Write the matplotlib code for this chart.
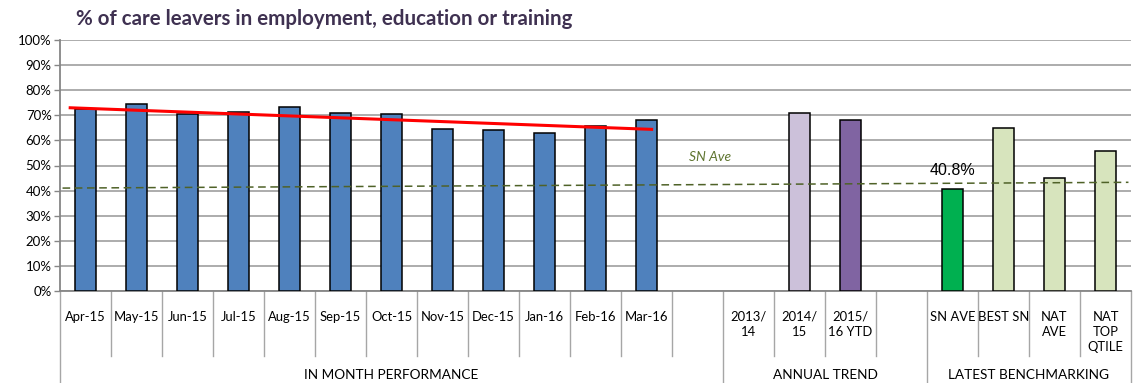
import matplotlib.pyplot as plt
import numpy as np

# monthly figures, annual trend and benchmarks (%)
months = ['Apr-15', 'May-15', 'Jun-15', 'Jul-15', 'Aug-15', 'Sep-15',
          'Oct-15', 'Nov-15', 'Dec-15', 'Jan-16', 'Feb-16', 'Mar-16']
month_vals = [72.5, 74.5, 70.5, 71.4, 73.2, 70.8, 70.6, 64.4, 64.1, 63.1, 65.9, 68.0]

years = ['2013/\n14', '2014/\n15', '2015/\n16 YTD']
year_vals = [np.nan, 70.9, 68.0]

bench = ['SN AVE', 'BEST SN', 'NAT\nAVE', 'NAT\nTOP\nQTILE']
bench_vals = [40.8, 64.8, 44.9, 55.7]

trend_ends = [73.0, 64.4]      # red trend line, Apr-15 -> Mar-16
sn_ave_ends = [41.0, 43.3]     # dashed SN average line across the chart

groups = ['IN MONTH PERFORMANCE', 'ANNUAL TREND', 'LATEST BENCHMARKING']

# slot layout: 12 months + gap, 3 years + gap, 4 benchmarks
labels = months + [''] + years + [''] + bench
values = month_vals + [np.nan] + year_vals + [np.nan] + bench_vals
colors = (['#4F81BD'] * 12 + ['w'] + ['w', '#CCC1DA', '#8064A2'] + ['w']
          + ['#00B050', '#D7E4BD', '#D7E4BD', '#D7E4BD'])
x = np.arange(len(labels))
group_edges = [-0.5, 12.5, 16.5, 20.5]

plt.rcParams['font.family'] = ['Lato', 'DejaVu Sans']

fig = plt.figure(figsize=(11.33, 3.83), dpi=100)
W, H = 1133, 383
ax = fig.add_axes([60 / W, (H - 291) / H, 1071 / W, 251 / H])

ax.set_ylim(0, 100)
ax.set_xlim(-0.5, 20.5)
ax.set_yticks(np.arange(0, 101, 10))
ax.set_yticklabels([f'{v}%' for v in range(0, 101, 10)], fontsize=9.5)
ax.yaxis.grid(True, color='#A6A6A6', linewidth=1.3)
ax.set_axisbelow(True)
ax.tick_params(axis='y', length=4, width=1, color='#868686', pad=2)
ax.set_xticks([])
for s in ['top', 'right']:
    ax.spines[s].set_visible(False)
for s in ['left', 'bottom']:
    ax.spines[s].set_color('#868686')
    ax.spines[s].set_linewidth(1.3)

for xi, v, c in zip(x, values, colors):
    if not np.isnan(v):
        ax.bar(xi, v, width=0.42, color=c, edgecolor='black', linewidth=1.1, zorder=3)

ax.plot([-0.3, 11.1], trend_ends, color='#FF0000', linewidth=2.2, zorder=4)
ax.plot([-0.45, 20.45], sn_ave_ends, color='#4F6228', linewidth=1.1,
        linestyle=(0, (5, 3)), zorder=4)
ax.text(12.25, 53.4, 'SN Ave', color='#5F7530', style='italic', fontsize=10,
        ha='center', va='center')

sn_idx = 17
ax.annotate(f'{bench_vals[0]:.1f}%', (x[sn_idx], bench_vals[0]),
            xytext=(0, 13), textcoords='offset points', ha='center', va='center',
            fontsize=11.5, family='Liberation Sans')

# category labels and separators under the axis
tr = ax.get_xaxis_transform()
for xi, lab in zip(x, labels):
    ax.text(xi, -0.0785, lab, transform=tr, ha='center', va='top',
            fontsize=9.4, linespacing=1.3)
for b in np.arange(-0.5, 21, 1.0):
    bottom = -0.367 if b in group_edges else -0.259
    ax.plot([b, b], [0, bottom], transform=tr, color='#A6A6A6', linewidth=1,
            clip_on=False)
for g, lo, hi in zip(groups, group_edges[:-1], group_edges[1:]):
    ax.text((lo + hi) / 2, -0.335, g, transform=tr, ha='center', va='center',
            fontsize=9.8)

fig.text(76 / W, 1 - 19 / H, '% of care leavers in employment, education or training',
         fontsize=14.8, fontweight='bold', color='#3F3151', ha='left', va='center')

fig.savefig('out.png', dpi=100)
